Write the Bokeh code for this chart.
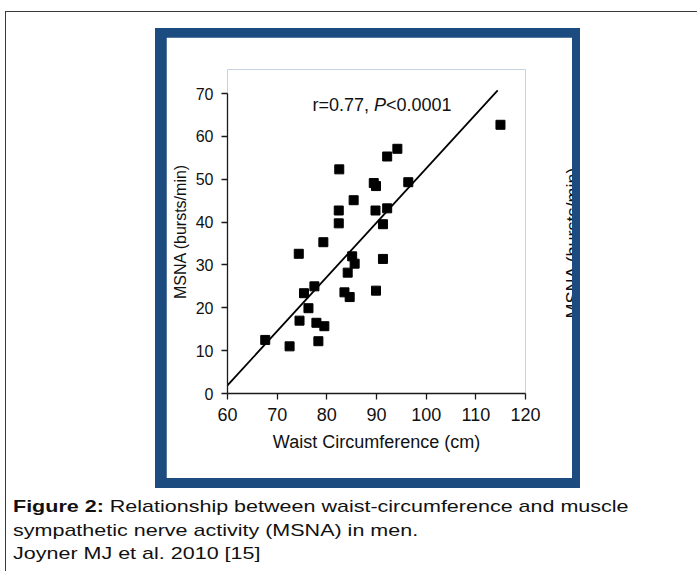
import math
from bokeh.plotting import figure
from bokeh.models import Range1d, FixedTicker, Label, Div
from bokeh.layouts import column
from bokeh.embed import file_html
from bokeh.resources import INLINE

# ---- data ----
waist_cm = [67.6, 72.5, 74.5, 74.35, 75.4, 76.3, 77.5, 77.9, 79.5, 78.3,
            79.3, 82.4, 82.4, 82.5, 83.55, 84.6, 84.2, 85.1, 85.6, 85.4,
            89.45, 89.9, 89.8, 89.9, 91.3, 91.3, 92.15, 92.15, 94.2, 96.4,
            114.96]
msna = [12.5, 11.0, 17.0, 32.6, 23.4, 19.9, 25.0, 16.5, 15.7, 12.2,
        35.3, 39.7, 42.7, 52.3, 23.6, 22.5, 28.2, 32.0, 30.3, 45.1,
        49.1, 48.4, 42.7, 24.0, 39.5, 31.4, 43.2, 55.3, 57.1, 49.3,
        62.7]

x_ticks = [60, 70, 80, 90, 100, 110, 120]
y_ticks = [0, 10, 20, 30, 40, 50, 60, 70]

fit_x = [60, 114.4]
fit_slope = 1.265
fit_y_at_60 = 1.9
fit_y = [fit_y_at_60 + fit_slope * (x - 60) for x in fit_x]

stat_parts = ["r=0.77, ", "P", "<0.0001"]
x_label = "Waist Circumference (cm)"
y_label = "MSNA (bursts/min)"
caption_bold = "Figure 2:"
caption_lines = ["Relationship between waist-circumference and muscle",
                 "sympathetic nerve activity (MSNA) in men.",
                 "Joyner MJ et al. 2010 [15]"]

FONT = "Liberation Sans"
BLUE = "#1b4b7f"

p = figure(width=406, height=441,
           x_range=Range1d(60, 120), y_range=Range1d(0, 75.6),
           output_backend="svg", toolbar_location=None,
           min_border_left=61, min_border_right=47,
           min_border_top=32, min_border_bottom=85,
           background_fill_color="white", border_fill_color="white",
           outline_line_color=None)
p.grid.visible = False

for ax in (p.xaxis[0], p.yaxis[0]):
    ax.axis_line_color = "#1a1a1a"
    ax.axis_line_width = 1.3
    ax.major_tick_line_color = "#1a1a1a"
    ax.major_tick_line_width = 1.3
    ax.major_tick_in = 0
    ax.major_tick_out = 6
    ax.minor_tick_line_color = None
    ax.major_label_text_font = FONT
    ax.major_label_text_color = "#111111"
    ax.axis_label_text_font = FONT
    ax.axis_label_text_font_style = "normal"
    ax.axis_label_text_color = "#111111"
    ax.major_label_standoff = 8

p.xaxis[0].ticker = FixedTicker(ticks=x_ticks)
p.yaxis[0].ticker = FixedTicker(ticks=y_ticks)
p.yaxis[0].bounds = (0, 70)
p.xaxis[0].major_label_text_font_size = "18px"
p.yaxis[0].major_label_text_font_size = "16px"
p.xaxis[0].axis_label = x_label
p.yaxis[0].axis_label = y_label
p.xaxis[0].axis_label_text_font_size = "18px"
p.yaxis[0].axis_label_text_font_size = "16px"
p.xaxis[0].axis_label_standoff = 8
p.yaxis[0].axis_label_standoff = 4

p.line(fit_x, fit_y, line_color="black", line_width=1.8)
p.scatter(waist_cm, msna, marker="square", size=9,
          fill_color="black", line_color="black")

# statistics text (italic P)
offsets = [0, 61.5, 73.5]
styles = ["normal", "italic", "normal"]
for t, off, st in zip(stat_parts, offsets, styles):
    p.add_layout(Label(x=77.1, y=67.4, x_offset=off, text=t,
                       text_font=FONT, text_font_size="18px",
                       text_font_style=st, text_color="#111111",
                       text_baseline="alphabetic", text_align="left"))

# label of the neighbouring panel, cut off at the right edge (as in the scan)
p.add_layout(Label(x=129.55, y=17.5, text=y_label, angle=math.pi / 2,
                   text_font=FONT, text_font_size="18px",
                   text_color="#111111", text_baseline="alphabetic",
                   text_align="left"), "right")

panel = column(p, styles={"background-color": BLUE,
                          "padding": "9px 8px 10px 11px",
                          "margin-left": "149px", "margin-top": "16px"})

cap_html = ("<b>%s</b> %s<br>%s<br>%s" % (caption_bold, caption_lines[0],
                                          caption_lines[1], caption_lines[2]))
caption = Div(text=cap_html, width=520,
              styles={"font-family": FONT, "font-size": "17px",
                      "line-height": "23.5px", "color": "#111111",
                      "white-space": "nowrap",
                      "transform": "scaleX(1.265)",
                      "transform-origin": "left top",
                      "margin-left": "7px", "margin-top": "7px"})

root = column(panel, caption, width=692,
              styles={"border-left": "1px solid #3a3a3a",
                      "border-top": "1px solid #3a3a3a",
                      "margin-left": "5px", "margin-top": "11px"})

open("out.html", "w").write(file_html(root, INLINE))
